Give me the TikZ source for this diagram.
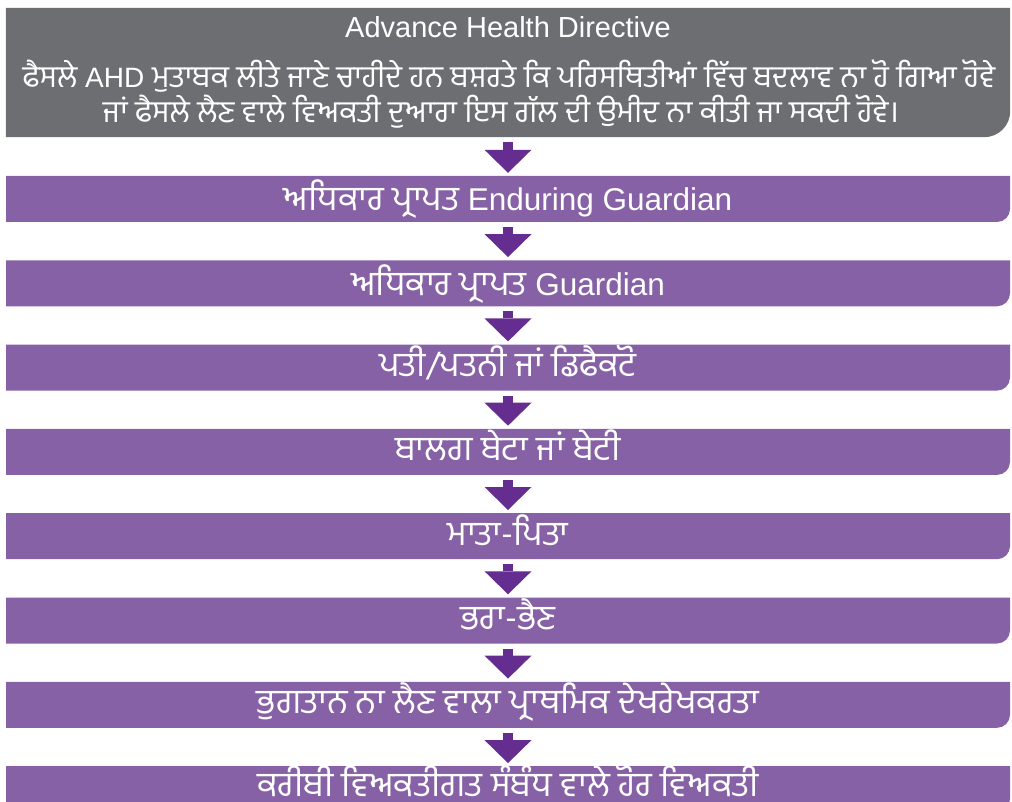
\documentclass[tikz,border=0pt]{standalone}
\usepackage{fontspec}
\setmainfont{Liberation Sans}
\newfontfamily\pa[Script=Gurmukhi,Scale=1.09]{Hind Jalandhar}
\usetikzlibrary{arrows.meta,backgrounds}
\definecolor{ahdgrey}{HTML}{6D6E71}
\definecolor{levelfill}{HTML}{8761A5}
\definecolor{arrowfill}{HTML}{662D91}
\begin{document}
\begin{tikzpicture}[x=1pt,y=1pt]
		\tikzstyle{level}=[rectangle,minimum width=1004pt,minimum height=46pt,inner sep=0pt,text=white,font=\fontsize{31.5}{36}\selectfont,text height=30pt,text depth=6pt]
		\tikzstyle{plevel}=[level,text depth=12pt]
		\tikzstyle{body}=[anchor=base,inner sep=0pt,text=white,font=\fontsize{28}{34}\selectfont]
		\tikzstyle{flow}=[arrowfill,line width=10pt,-{Triangle[width=47pt,length=23pt,line width=0pt]},shorten <=5pt,shorten >=3pt]
		\useasboundingbox (0,0) rectangle (1012,-802);
		
		% top box
		\node[rectangle,minimum width=1004pt,minimum height=129pt,inner sep=0pt] (ahd) at (508,-72.5) {};
		\node[body,font=\fontsize{29}{34}\selectfont] (title) at (508,-38) {Advance Health Directive};
		\node[body] (line1) at (509,-88) {{\pa ਫੈਸਲੇ} AHD {\pa ਮੁਤਾਬਕ ਲੀਤੇ ਜਾਣੇ ਚਾਹੀਦੇ ਹਨ ਬਸ਼ਰਤੇ ਕਿ ਪਰਿਸਥਿਤੀਆਂ ਵਿੱਚ ਬਦਲਾਵ ਨਾ ਹੋ ਗਿਆ ਹੋਵੇ}};
		\node[body] (line2) at (501,-123) {\pa ਜਾਂ ਫੈਸਲੇ ਲੈਣ ਵਾਲੇ ਵਿਅਕਤੀ ਦੁਆਰਾ ਇਸ ਗੱਲ ਦੀ ਉਮੀਦ ਨਾ ਕੀਤੀ ਜਾ ਸਕਦੀ ਹੋਵੇ।};
		
		% levels
		\node[level]  (enduring) at (508,-199)   {{\pa ਅਧਿਕਾਰ ਪ੍ਰਾਪਤ} Enduring Guardian};
		\node[level]  (guardian) at (508,-283.3) {{\pa ਅਧਿਕਾਰ ਪ੍ਰਾਪਤ} Guardian};
		\node[plevel] (spouse)   at (508,-367.6) {\pa ਪਤੀ/ਪਤਨੀ ਜਾਂ ਡਿਫੈਕਟੋ};
		\node[plevel] (child)    at (508,-451.9) {\pa ਬਾਲਗ ਬੇਟਾ ਜਾਂ ਬੇਟੀ};
		\node[plevel] (parent)   at (508,-536.2) {\pa ਮਾਤਾ-ਪਿਤਾ};
		\node[plevel] (sibling)  at (508,-620.5) {\pa ਭਰਾ-ਭੈਣ};
		\node[plevel] (carer)    at (508,-704.8) {\pa ਭੁਗਤਾਨ ਨਾ ਲੈਣ ਵਾਲਾ ਪ੍ਰਾਥਮਿਕ ਦੇਖਰੇਖਕਰਤਾ};
		\node[plevel,text depth=16pt] (friend) at (508,-789.1) {\pa ਕਰੀਬੀ ਵਿਅਕਤੀਗਤ ਸੰਬੰਧ ਵਾਲੇ ਹੋਰ ਵਿਅਕਤੀ};
		
		\begin{scope}[on background layer]
		\fill[ahdgrey] (ahd.north west) -- (ahd.north east) -- ([yshift=26pt]ahd.south east)
			arc[start angle=0,end angle=-90,radius=26pt] -- (ahd.south west) -- cycle;
		\foreach \n in {enduring,guardian,spouse,child,parent,sibling,carer,friend}
			\fill[levelfill] ([yshift=-23pt]\n.center) ++(-502,46) -- ++(1004,0) -- ++(0,-33)
				arc[start angle=0,end angle=-90,radius=13pt] -- ++(-991,0) -- cycle;
		\end{scope}
		
		\path[flow]
		(ahd) edge (enduring)
		(enduring) edge (guardian)
		(guardian) edge (spouse)
		(spouse) edge (child)
		(child) edge (parent)
		(parent) edge (sibling)
		(sibling) edge (carer)
		(carer) edge ([yshift=23pt]friend.center)
		;
\end{tikzpicture}
\end{document}
